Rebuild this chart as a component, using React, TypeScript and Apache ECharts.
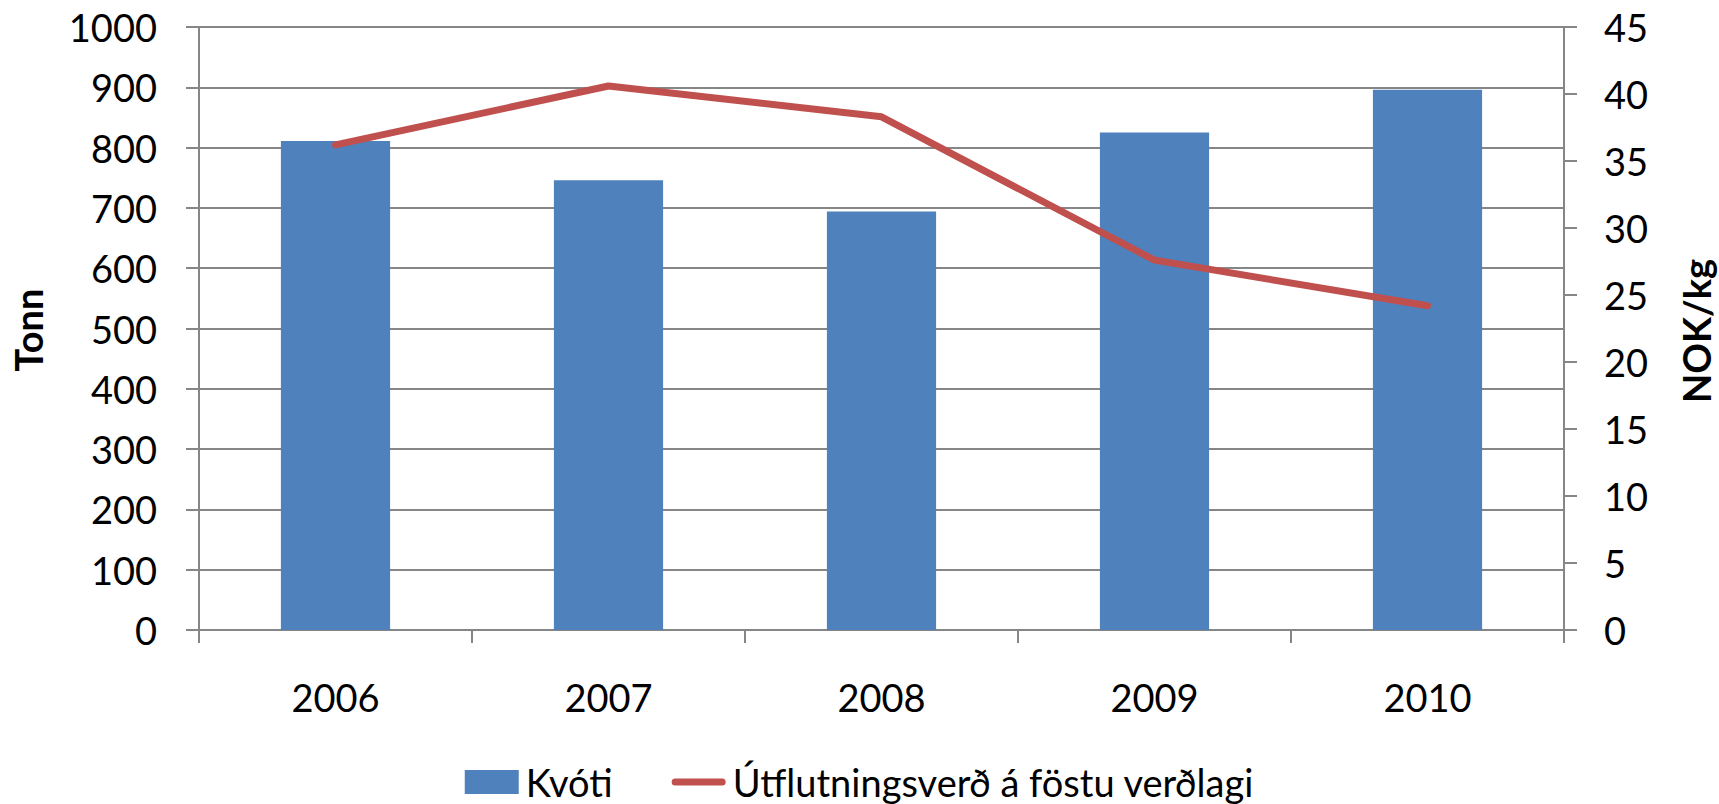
import React, { useEffect, useRef } from "react";
import * as echarts from "echarts";

const categories = ["2006", "2007", "2008", "2009", "2010"];
const kvoti = [811, 746, 694, 825, 896];
const price = [36.2, 40.6, 38.3, 27.6, 24.2];
const leftTicks = { min: 0, max: 1000, interval: 100 };
const rightTicks = { min: 0, max: 45, interval: 5 };
const barName = "Kvóti";
const lineName = "Útflutningsverð á föstu verðlagi";
const leftName = "Tonn";
const rightName = "NOK/kg";

const FONT = "Lato";
const FS = 38;
const GRAY = "#868686";
const LINE_ICON =
  "path://M0,0h0.01v0.01h-0.01z M3.5,8.5h47a3.5,3.5 0 0 1 0,7h-47a3.5,3.5 0 0 1 0,-7z M53.99,23.99h0.01v0.01h-0.01z";

export default function App() {
  const ref = useRef<HTMLDivElement>(null);
  useEffect(() => {
    if (!ref.current) return;
    const chart = echarts.init(ref.current, undefined, { renderer: "svg" });
    chart.setOption({
      animation: false,
      backgroundColor: "#ffffff",
      textStyle: { fontFamily: FONT, color: "#000" },
      grid: { left: 199, right: 155, top: 27, bottom: 174, containLabel: false },
      legend: {
        left: "center",
        top: 758,
        itemWidth: 54,
        itemHeight: 24,
        itemGap: 59,
        textStyle: { fontFamily: FONT, fontSize: FS, color: "#000", padding: [0, 0, 0, 2] },
        data: [
          { name: barName, icon: "rect" },
          { name: lineName, icon: LINE_ICON, itemStyle: { color: "#C0504D" } },
        ],
      },
      xAxis: {
        type: "category",
        data: categories,
        axisLine: { lineStyle: { color: GRAY, width: 2 } },
        axisTick: { show: true, length: 13, alignWithLabel: false, lineStyle: { color: GRAY, width: 2 } },
        axisLabel: { fontFamily: FONT, fontSize: FS, color: "#000", margin: 48 },
      },
      yAxis: [
        {
          type: "value",
          min: leftTicks.min,
          max: leftTicks.max,
          interval: leftTicks.interval,
          axisLine: { show: true, lineStyle: { color: GRAY, width: 2 } },
          axisTick: { show: true, length: 13, lineStyle: { color: GRAY, width: 2 } },
          axisLabel: {
            fontFamily: FONT,
            fontSize: FS,
            color: "#000",
            margin: 42,
            formatter: (v: number) => String(v),
          },
          splitLine: { show: true, lineStyle: { color: GRAY, width: 2 } },
        },
        {
          type: "value",
          min: rightTicks.min,
          max: rightTicks.max,
          interval: rightTicks.interval,
          position: "right",
          axisLine: { show: true, lineStyle: { color: GRAY, width: 2 } },
          axisTick: { show: true, length: 13, lineStyle: { color: GRAY, width: 2 } },
          axisLabel: {
            fontFamily: FONT,
            fontSize: FS,
            color: "#000",
            margin: 40,
            formatter: (v: number) => String(v),
          },
          splitLine: { show: false },
        },
      ],
      graphic: [
        {
          type: "text",
          x: 28,
          y: 330,
          rotation: Math.PI / 2,
          style: {
            text: leftName,
            fontFamily: FONT,
            fontWeight: "bold",
            fontSize: FS,
            fill: "#000",
            align: "center",
            verticalAlign: "middle",
          },
        },
        {
          type: "text",
          x: 1696,
          y: 331,
          rotation: Math.PI / 2,
          style: {
            text: rightName,
            fontFamily: FONT,
            fontWeight: "bold",
            fontSize: FS,
            fill: "#000",
            align: "center",
            verticalAlign: "middle",
          },
        },
      ],
      series: [
        {
          name: barName,
          type: "bar",
          data: kvoti,
          barWidth: "40%",
          itemStyle: { color: "#4F81BD" },
          yAxisIndex: 0,
        },
        {
          name: lineName,
          type: "line",
          data: price,
          yAxisIndex: 1,
          symbol: "none",
          lineStyle: { color: "#C0504D", width: 7, cap: "round", join: "round" },
          itemStyle: { color: "#C0504D" },
        },
      ],
    });
    return () => chart.dispose();
  }, []);
  return (
    <div
      ref={ref}
      style={{ position: "fixed", left: 0, top: 0, width: 1719, height: 804 }}
    />
  );
}
